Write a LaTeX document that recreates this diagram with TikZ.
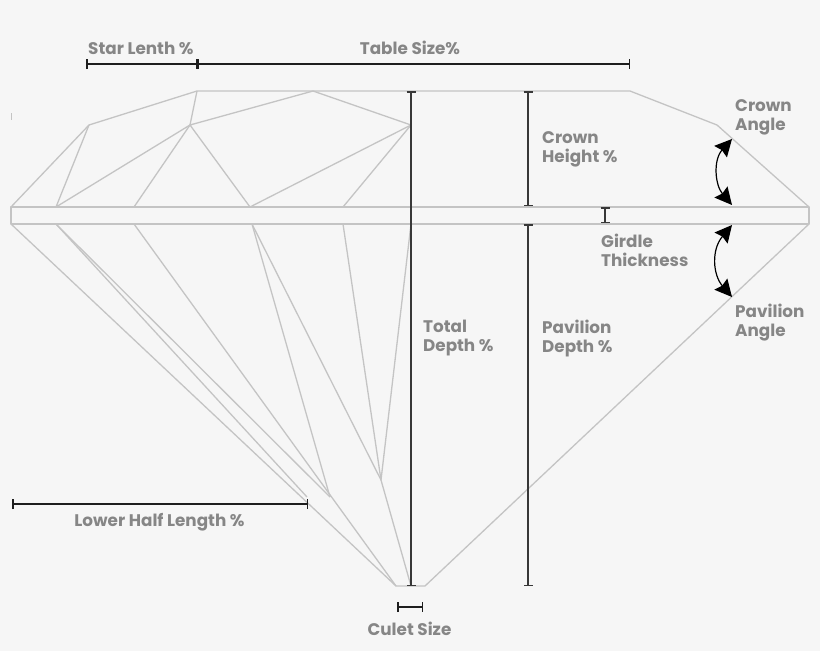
\documentclass[tikz,border=0pt]{standalone}
\usepackage{fontspec}
\setmainfont{Poppins}
\usetikzlibrary{arrows.meta}
\definecolor{bgc}{HTML}{F6F6F6}
\definecolor{facet}{HTML}{C4C4C4}
\definecolor{labelc}{HTML}{868686}
\definecolor{dimc}{HTML}{1E1E1E}
\definecolor{depthc}{HTML}{383838}
\tikzset{
  facetline/.style={draw=facet,line width=1.3pt,line join=round},
  dimline/.style={draw=dimc,line width=1.5pt,{Bar[width=10pt,line width=1.5pt]}-{Bar[width=10pt,line width=1.5pt]}},
  depthline/.style={draw=depthc,line width=1.9pt,{Bar[width=9pt,line width=1.5pt]}-{Bar[width=9pt,line width=1.5pt]}},
  anglearrow/.style={draw=black,line width=1.2pt,{Stealth[length=17pt,width=17pt,inset=2pt]}-{Stealth[length=17pt,width=17pt,inset=2pt]}},
  lab/.style={text=labelc,font=\fontsize{16.8}{19}\selectfont\bfseries,align=left,inner sep=0pt},
}
\begin{document}
\begin{tikzpicture}[x=1pt,y=-1pt]
\useasboundingbox (0,0) rectangle (820,651);
\fill[bgc] (0,0) rectangle (820,651);
% crown
\foreach \n/\x/\y in {gtl/11/207,gtr/809/207,gbl/11/224,gbr/809/224,
 ca/89/125,cb/197/91,cc/630/91,cd/717/125,ce/190/125,cf/313/91,cg/411/125,
 ga/56/207,gb/134/207,gc/250/207,gd/343/207,
 pa/56/224,pb/134/224,pc/252/224,pd/343/224,pe/411/224,
 cul/396/586,cur/425/586,cum/411/586,h0/307/497,h1/330/497,h2/381/480}
  {\coordinate (\n) at (\x,\y);}
\path[facetline] (gtl) rectangle (gbr);
\path[facetline] (gtl) -- (ca) -- (cb) -- (cc) -- (cd) -- (gtr);
\path[facetline] (ca) -- (ga) -- (ce) -- (cb);
\path[facetline] (ce) -- (cf) -- (cg) -- (gc) -- (ce) -- (gb);
\path[facetline] (cg) -- (gd);
% pavilion
\path[facetline] (gbl) -- (cul) -- (cur) -- (gbr);
\path[facetline] (pa) -- (h0);
\path[facetline] (pa) -- (h1);
\path[facetline] (pb) -- (cul);
\path[facetline] (pc) -- (h1);
\path[facetline] (pc) -- (h2);
\path[facetline] (pd) -- (h2) -- (pe);
\path[facetline] (h2) -- (cum);
% dimensions
\coordinate (s1) at (86,64); \coordinate (s2) at (197,64); \coordinate (s3) at (630,64);
\draw[dimline] (s1) -- (s2);
\draw[dimline] (s2) -- (s3);
\coordinate (td1) at (411,91); \coordinate (td2) at (411,586);
\draw[depthline] (td1) -- (td2);
\coordinate (ch1) at (528,91); \coordinate (ch2) at (528,206);
\draw[depthline] (ch1) -- (ch2);
\coordinate (pd1) at (528,224); \coordinate (pd2) at (528,586);
\draw[depthline] (pd1) -- (pd2);
\coordinate (gi1) at (605,207); \coordinate (gi2) at (605,223);
\draw[depthline,line width=1.3pt] (gi1) -- (gi2);
\coordinate (lh1) at (12,504); \coordinate (lh2) at (308,504);
\draw[dimline] (lh1) -- (lh2);
\coordinate (cs1) at (397,607); \coordinate (cs2) at (423,607);
\draw[dimline] (cs1) -- (cs2);
% angle arrows
\coordinate (a1) at (732,139); \coordinate (a2) at (732,205);
\draw[anglearrow] (a1) .. controls (713,160) and (715,185) .. (a2);
\coordinate (a3) at (732,225); \coordinate (a4) at (732,297);
\draw[anglearrow] (a3) .. controls (711,250) and (713,275) .. (a4);
% labels
\node[lab,anchor=west] (lstar) at (88,48) {Star Lenth \%};
\node[lab,anchor=center] (ltable) at (410,48) {Table Size\%};
\node[lab,anchor=north west] (lcrown) at (542,131) {Crown\\Height \%};
\node[lab,anchor=north west] (langle) at (735,99) {Crown\\Angle};
\node[lab,anchor=north west] (lgirdle) at (601,234) {Girdle\\Thickness};
\node[lab,anchor=north west] (lpang) at (735,304) {Pavilion\\Angle};
\node[lab,anchor=north west] (ltotal) at (423,320) {Total\\Depth \%};
\node[lab,anchor=north west] (lpav) at (542,320) {Pavilion\\Depth \%};
\node[lab,anchor=center] (llow) at (159.5,522.5) {Lower Half Length \%};
\node[lab,anchor=center] (lcul) at (409.5,629) {Culet Size};
% tiny mark
\coordinate (m1) at (11.5,113); \coordinate (m2) at (11.5,120);
\draw[facet,line width=.7pt] (m1) -- (m2);
\end{tikzpicture}
\end{document}
